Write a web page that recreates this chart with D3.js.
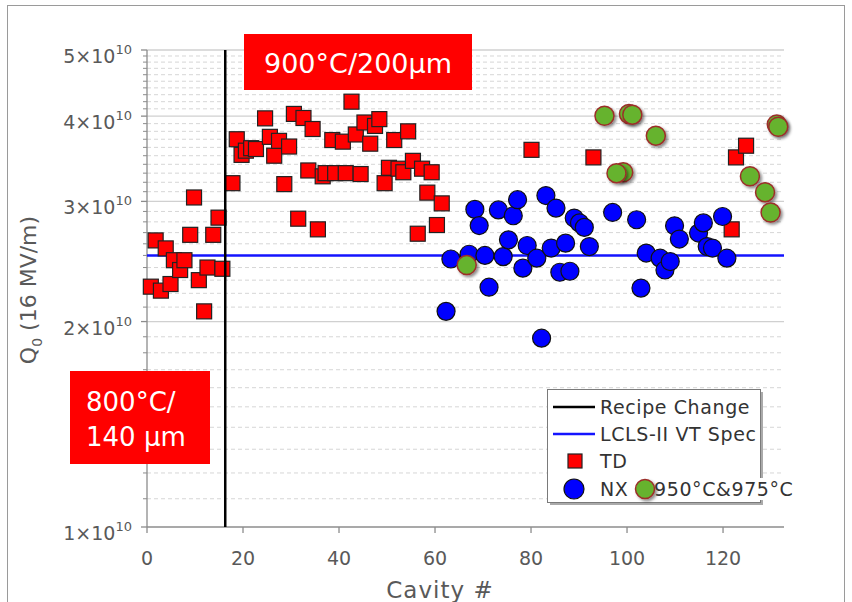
<!DOCTYPE html>
<html>
<head>
<meta charset="utf-8">
<script src="https://cdn.jsdelivr.net/npm/d3@7"></script>
<style>
  body { margin: 0; background: #fff; }
  svg { display: block; font-family: "DejaVu Sans", sans-serif; }
</style>
</head>
<body>
<svg id="chart" width="852" height="602"></svg>
<script>
// Q0 values are in units of 1e10
var tdCavity = [0.8, 1.8, 2.9, 3.9, 4.9, 5.6, 6.9, 7.8, 9.0, 9.8, 10.8, 11.9, 12.6, 13.8, 14.9, 15.7,
  17.8, 18.7, 19.7, 20.6, 21.7, 22.7, 24.6, 25.6, 26.5, 27.5, 28.6, 29.6, 30.6, 31.5, 32.6, 33.6,
  34.5, 35.6, 36.6, 37.2, 38.6, 39.2, 40.8, 41.4, 42.6, 43.5, 44.5, 45.3, 46.5, 47.5, 48.4, 49.5,
  50.4, 51.5, 52.4, 53.4, 54.4, 55.4, 56.4, 57.3, 58.4, 59.3, 60.4, 61.4,
  80.1, 93.0, 121.8, 122.7, 124.8];
var tdQ = [2.25, 2.63, 2.22, 2.56, 2.27, 2.46, 2.38, 2.46, 2.68, 3.04, 2.30, 2.07, 2.40, 2.68, 2.84, 2.39,
  3.19, 3.70, 3.51, 3.56, 3.59, 3.58, 3.97, 3.73, 3.50, 3.68, 3.18, 3.61, 4.03, 2.83, 3.975, 3.33,
  3.83, 2.73, 3.265, 3.30, 3.69, 3.30, 3.67, 3.30, 4.20, 3.76, 3.29, 3.915, 3.645, 3.87, 3.96, 3.19,
  3.36, 3.69, 3.35, 3.31, 3.80, 3.44, 2.69, 3.35, 3.09, 3.31, 2.77, 2.98,
  3.57, 3.48, 2.73, 3.48, 3.62];

var nxCavity = [62.3, 63.3, 67.1, 68.3, 69.2, 70.4, 71.25, 73.2, 74.2, 75.3, 76.3, 77.2, 78.3, 79.2,
  81.2, 82.2, 83.1, 84.2, 85.2, 86.0, 87.2, 88.1, 89.0, 90.1, 91.1, 92.15, 97.0, 102.0, 102.9,
  104.0, 106.9, 107.9, 109.0, 109.9, 110.9, 114.9, 115.9, 116.7, 117.8, 119.9, 120.8];
var nxQ = [2.07, 2.47, 2.51, 2.92, 2.765, 2.50, 2.246, 2.915, 2.49, 2.635, 2.858, 3.017, 2.395, 2.585,
  2.477, 1.891, 3.06, 2.563, 2.933, 2.362, 2.606, 2.37, 2.836, 2.79, 2.748, 2.576, 2.89, 2.82, 2.239,
  2.52, 2.477, 2.38, 2.449, 2.763, 2.642, 2.696, 2.79, 2.576, 2.563, 2.851, 2.477];

var hotCavity = [66.6, 95.3, 100.4, 101.1, 106.0, 99.2, 97.8, 125.6, 128.75, 129.9, 131.2, 131.5];
var hotQ = [2.42, 4.005, 4.03, 4.02, 3.745, 3.31, 3.30, 3.265, 3.095, 2.89, 3.89, 3.86];

var recipeChange = 16.3;
var vtSpec = 2.5;

var xTicks = [0, 20, 40, 60, 80, 100, 120];
var yTicks = [1, 2, 3, 4, 5];

var x0 = 147, x1 = 784, yTop = 50, yBot = 527;
var grey = "#595959";

var x = d3.scaleLinear().domain([0, 132.7]).range([x0, x1]);
var y = d3.scaleLog().domain([1, 5]).range([yBot, yTop]);

var svg = d3.select("#chart");

var defs = svg.append("defs");
var shadow = defs.append("filter").attr("id", "shadow")
  .attr("x", "-50%").attr("y", "-50%").attr("width", "200%").attr("height", "200%");
shadow.append("feDropShadow")
  .attr("dx", 2).attr("dy", 2).attr("stdDeviation", 1.5)
  .attr("flood-color", "#000").attr("flood-opacity", 0.45);

// outer frame
svg.append("rect")
  .attr("x", 7.5).attr("y", 5.5).attr("width", 837).attr("height", 620)
  .attr("fill", "none").attr("stroke", "#9a9a9a");

// gridlines
var minor = d3.range(11, 50).map(d => d / 10).filter(d => d % 1 !== 0);
svg.append("g").selectAll("line")
  .data(minor)
  .enter()
  .append("line")
  .attr("x1", x0).attr("x2", x1)
  .attr("y1", d => y(d)).attr("y2", d => y(d))
  .attr("stroke", "#d6d6d6")
  .attr("stroke-dasharray", "4,3");

svg.append("g").selectAll("line")
  .data(yTicks.slice(1))
  .enter()
  .append("line")
  .attr("x1", x0).attr("x2", x1)
  .attr("y1", d => y(d)).attr("y2", d => y(d))
  .attr("stroke", "#d0d0d0")
  .attr("stroke-width", 1.3);

// y axis
var yAxis = svg.append("g").attr("transform", `translate(${x0},0)`);
yAxis.append("line")
  .attr("y1", yTop).attr("y2", yBot)
  .attr("stroke", "#8c8c8c").attr("stroke-width", 1.3);
yAxis.selectAll(".minor")
  .data(minor)
  .enter()
  .append("line")
  .attr("x1", -4).attr("x2", 0)
  .attr("y1", d => y(d)).attr("y2", d => y(d))
  .attr("stroke", "#8c8c8c");
yAxis.selectAll(".major")
  .data(yTicks)
  .enter()
  .append("line")
  .attr("x1", -6).attr("x2", 0)
  .attr("y1", d => y(d)).attr("y2", d => y(d))
  .attr("stroke", "#8c8c8c").attr("stroke-width", 1.3);

var yLab = yAxis.selectAll(".lab")
  .data(yTicks)
  .enter()
  .append("text")
  .attr("x", -15)
  .attr("y", d => y(d) + 13)
  .attr("text-anchor", "end")
  .attr("fill", grey)
  .style("font-size", "19px");
yLab.append("tspan").text(d => d + "\u00d710");
yLab.append("tspan").attr("dy", -9).style("font-size", "13px").text("10");

// x axis
var xAxis = svg.append("g").attr("transform", `translate(0,${yBot})`);
xAxis.append("line")
  .attr("x1", x0).attr("x2", x1)
  .attr("stroke", "#8c8c8c").attr("stroke-width", 1.5);
xAxis.selectAll(".tick")
  .data(xTicks)
  .enter()
  .append("line")
  .attr("x1", d => x(d)).attr("x2", d => x(d))
  .attr("y1", 0).attr("y2", 6)
  .attr("stroke", "#8c8c8c").attr("stroke-width", 1.3);
xAxis.selectAll(".lab")
  .data(xTicks)
  .enter()
  .append("text")
  .attr("x", d => x(d))
  .attr("y", 38)
  .attr("text-anchor", "middle")
  .attr("fill", grey)
  .style("font-size", "19px")
  .text(d => d);

// axis titles
svg.append("text")
  .attr("x", 440).attr("y", 598)
  .attr("text-anchor", "middle")
  .attr("fill", grey)
  .style("font-size", "23px")
  .style("letter-spacing", "1px")
  .text("Cavity #");

var yTitle = svg.append("text")
  .attr("transform", "translate(36,290) rotate(-90)")
  .attr("text-anchor", "middle")
  .attr("fill", grey)
  .style("font-size", "22px");
yTitle.append("tspan").text("Q");
yTitle.append("tspan").attr("dy", 6).style("font-size", "14px").text("0");
yTitle.append("tspan").attr("dy", -6).text(" (16 MV/m)");

// reference lines
svg.append("line")
  .attr("x1", x0).attr("x2", x1)
  .attr("y1", y(vtSpec)).attr("y2", y(vtSpec))
  .attr("stroke", "#1414ff").attr("stroke-width", 2.5);

// points
svg.append("g").selectAll("rect")
  .data(tdCavity.map((c, i) => ({ c: c, q: tdQ[i] })))
  .enter()
  .append("rect")
  .attr("x", d => x(d.c) - 7.5)
  .attr("y", d => y(d.q) - 7.5)
  .attr("width", 15).attr("height", 15)
  .attr("fill", "#ff0000")
  .attr("stroke", "#222").attr("stroke-width", 1.2);

svg.append("line")
  .attr("x1", x(recipeChange)).attr("x2", x(recipeChange))
  .attr("y1", yTop).attr("y2", yBot)
  .attr("stroke", "#000").attr("stroke-width", 2.5);

svg.append("g").selectAll("circle")
  .data(nxCavity.map((c, i) => ({ c: c, q: nxQ[i] })))
  .enter()
  .append("circle")
  .attr("cx", d => x(d.c))
  .attr("cy", d => y(d.q))
  .attr("r", 9)
  .attr("fill", "#0000ff")
  .attr("stroke", "#111").attr("stroke-width", 1.2);

svg.append("g").selectAll("circle")
  .data(hotCavity.map((c, i) => ({ c: c, q: hotQ[i] })))
  .enter()
  .append("circle")
  .attr("cx", d => x(d.c))
  .attr("cy", d => y(d.q))
  .attr("r", 9.5)
  .attr("fill", "#66b32e")
  .attr("stroke", "#9c2f2a").attr("stroke-width", 1.5)
  .attr("filter", "url(#shadow)");

// annotation boxes
svg.append("rect")
  .attr("x", 244).attr("y", 34).attr("width", 228).attr("height", 56)
  .attr("fill", "#ff0000");
svg.append("text")
  .attr("x", 358).attr("y", 73)
  .attr("text-anchor", "middle")
  .attr("fill", "#fff")
  .style("font-size", "27px")
  .text("900\u00b0C/200\u03bcm");

svg.append("rect")
  .attr("x", 70).attr("y", 371).attr("width", 140).attr("height", 93)
  .attr("fill", "#ff0000");
svg.append("text")
  .attr("x", 86).attr("y", 411)
  .attr("fill", "#fff")
  .style("font-size", "26px")
  .text("800\u00b0C/");
svg.append("text")
  .attr("x", 86).attr("y", 446)
  .attr("fill", "#fff")
  .style("font-size", "26px")
  .text("140 \u03bcm");

// legend
var lg = svg.append("g");
lg.append("rect")
  .attr("x", 550).attr("y", 392).attr("width", 213).attr("height", 113)
  .attr("fill", "#aaa");
lg.append("rect")
  .attr("x", 547.5).attr("y", 389.5).attr("width", 213).attr("height", 113)
  .attr("fill", "#fff").attr("stroke", "#7a7a7a");
lg.append("rect")
  .attr("x", 652).attr("y", 478).attr("width", 136).attr("height", 22)
  .attr("fill", "#fff");

var lgText = "#333";
function lgLabel(tx, ty, s) {
  lg.append("text")
    .attr("x", tx).attr("y", ty + 7)
    .attr("fill", lgText)
    .style("font-size", "19px")
    .style("letter-spacing", "0.6px")
    .text(s);
}
lg.append("line").attr("x1", 553).attr("x2", 595).attr("y1", 407).attr("y2", 407)
  .attr("stroke", "#000").attr("stroke-width", 2.5);
lgLabel(600, 407, "Recipe Change");
lg.append("line").attr("x1", 553).attr("x2", 595).attr("y1", 434).attr("y2", 434)
  .attr("stroke", "#1414ff").attr("stroke-width", 2.5);
lgLabel(600, 434, "LCLS-II VT Spec");
lg.append("rect").attr("x", 568).attr("y", 454).attr("width", 14).attr("height", 14)
  .attr("fill", "#ff0000").attr("stroke", "#222").attr("stroke-width", 1.2);
lgLabel(600, 461, "TD");
lg.append("circle").attr("cx", 574).attr("cy", 489).attr("r", 10)
  .attr("fill", "#0000ff").attr("stroke", "#111").attr("stroke-width", 1.2);
lgLabel(600, 489, "NX");
lg.append("circle").attr("cx", 645).attr("cy", 489).attr("r", 9.5)
  .attr("fill", "#66b32e").attr("stroke", "#9c2f2a").attr("stroke-width", 1.5)
  .attr("filter", "url(#shadow)");
lgLabel(654, 489, "950\u00b0C&975\u00b0C");
</script>
</body>
</html>
